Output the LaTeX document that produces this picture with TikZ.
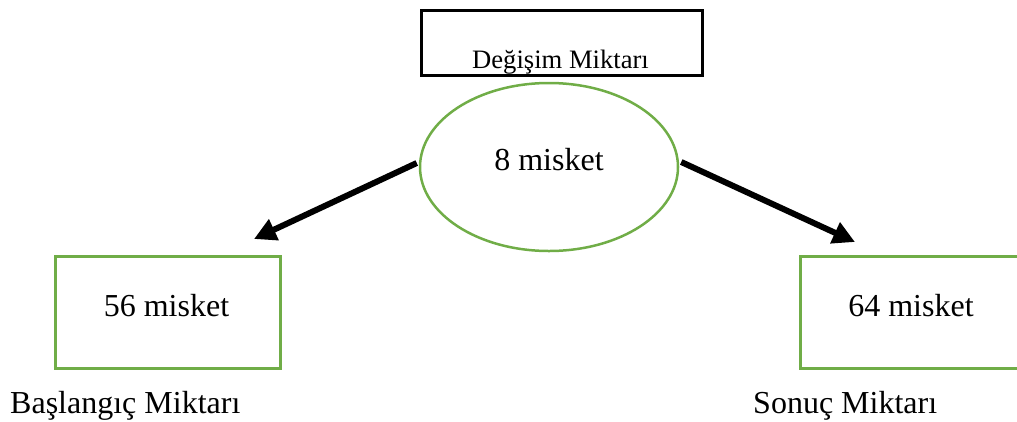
\documentclass[tikz,border=0pt]{standalone}
\usepackage{fontspec}
\setmainfont{Liberation Serif}
\usetikzlibrary{arrows.meta,shapes.geometric}
\definecolor{grn}{RGB}{112,173,71}
\begin{document}
\begin{tikzpicture}[x=1pt,y=-1pt,
  greenbox/.style={draw=grn,line width=3pt},
  bigtext/.style={font=\fontsize{32}{38}\selectfont,inner sep=0pt},
  arr/.style={line width=6pt,-{Triangle[length=22pt,width=22pt]}}]
\path[use as bounding box] (0,0) rectangle (1017,421);
\clip (0,0) rectangle (1017,421);
% top box
\node[draw=black,line width=3pt,minimum width=281pt,minimum height=65pt,inner sep=0pt,anchor=north west] (top) at (420,9) {};
\node[font=\fontsize{26.6}{30}\selectfont,inner sep=0pt,anchor=base] (toptext) at (560.5,68) {Değişim Miktarı};
% ellipse
\node[draw=grn,line width=2.5pt,ellipse,minimum width=258pt,minimum height=168pt,inner sep=0pt] (ell) at (549,167) {};
\node[bigtext,anchor=base] (elltext) at (549,170) {8 misket};
% left box
\node[greenbox,minimum width=225pt,minimum height=112pt,inner sep=0pt,anchor=north west] (lbox) at (54,255) {};
\node[bigtext,anchor=base] (ltext) at (166.5,316) {56 misket};
% right box
\node[greenbox,minimum width=225pt,minimum height=112pt,inner sep=0pt,anchor=north west] (rbox) at (799,255) {};
\node[bigtext,anchor=base] (rtext) at (911,316) {64 misket};
% labels
\node[bigtext,anchor=base west] (llabel) at (10,413) {Başlangıç Miktarı};
\node[bigtext,anchor=base west] (rlabel) at (753,413) {Sonuç Miktarı};
% arrows
\coordinate (ltip) at (254,239);
\coordinate (rtip) at (855,242);
\draw[arr] (ell.west) ++(-2,-4) coordinate (ls) -- (ltip);
\draw[arr] (ell.east) ++(2,-5) coordinate (rs) -- (rtip);
\end{tikzpicture}
\end{document}
